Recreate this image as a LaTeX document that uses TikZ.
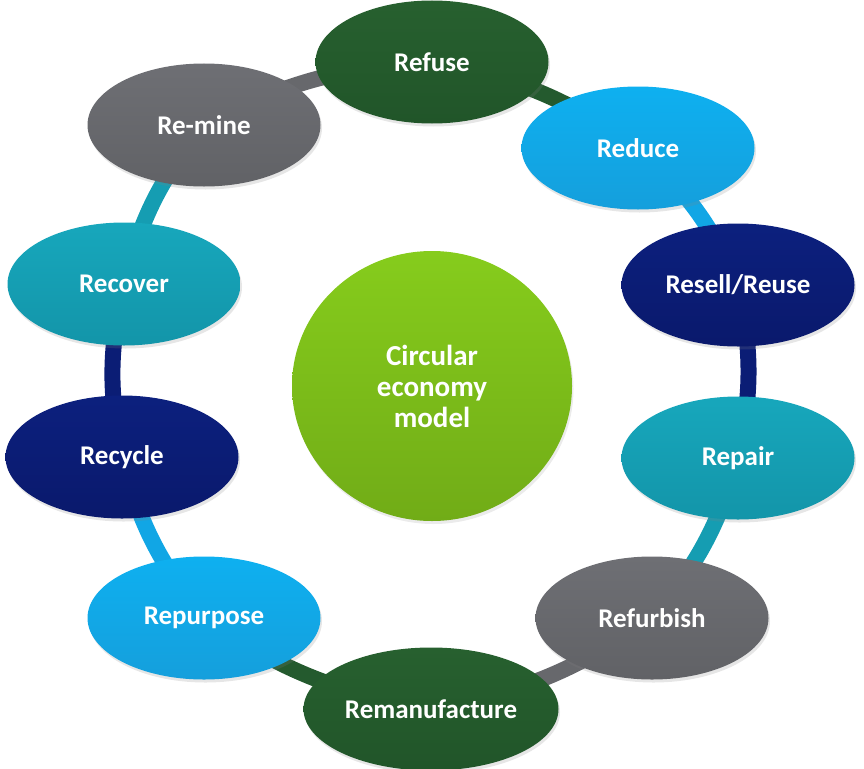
\documentclass[tikz,border=0pt]{standalone}
\usepackage{fontspec}
\setmainfont{Carlito}
\usetikzlibrary{shapes.geometric,shadows,backgrounds}
\definecolor{cgreenT}{HTML}{27602F}
\definecolor{cgreenB}{HTML}{215529}
\definecolor{cgreen}{HTML}{245A2E}
\definecolor{cblueT}{HTML}{0EB0F0}
\definecolor{cblueB}{HTML}{159FDC}
\definecolor{cblue}{HTML}{11A6E5}
\definecolor{cnavyT}{HTML}{0C207E}
\definecolor{cnavyB}{HTML}{0A196C}
\definecolor{cnavy}{HTML}{0B1D75}
\definecolor{ctealT}{HTML}{17A7BC}
\definecolor{ctealB}{HTML}{1395A9}
\definecolor{cteal}{HTML}{159DB2}
\definecolor{cgreyT}{HTML}{6E6F74}
\definecolor{cgreyB}{HTML}{616266}
\definecolor{cgrey}{HTML}{67686C}
\definecolor{ccentT}{HTML}{86CC1C}
\definecolor{ccentB}{HTML}{71AC17}
\begin{document}
\begin{tikzpicture}[x=1pt,y=-1pt,
  stage/.style={ellipse, minimum width=233pt, minimum height=123pt, inner sep=0pt,
    text=white, font=\fontsize{27}{32}\selectfont\bfseries,
    drop shadow={opacity=0.2, shadow xshift=1.5pt, shadow yshift=-3pt}},
  sgreen/.style={stage, top color=cgreenT, bottom color=cgreenB},
  sblue/.style={stage, top color=cblueT, bottom color=cblueB},
  snavy/.style={stage, top color=cnavyT, bottom color=cnavyB},
  steal/.style={stage, top color=ctealT, bottom color=ctealB},
  sgrey/.style={stage, top color=cgreyT, bottom color=cgreyB},
  link/.style={line width=16pt, bend left=12},
]
\useasboundingbox (0,0) rectangle (864,768);

\node[ellipse, minimum width=280pt, minimum height=270pt, inner sep=0pt,
  top color=ccentT, bottom color=ccentB, text=white, align=center,
  font=\fontsize{29}{31}\selectfont\bfseries,
  drop shadow={opacity=0.16, shadow xshift=1.5pt, shadow yshift=-3pt}]
  (center) at (432,386) {Circular\\economy\\model};

\node[sgreen] (refuse) at (432,62) {Refuse};
\node[sblue]  (reduce) at (638,148) {Reduce};
\node[snavy]  (resell) at (738,285) {Resell/Reuse};
\node[steal]  (repair) at (738,458) {Repair};
\node[sgrey]  (refurb) at (652,618) {Refurbish};
\node[sgreen, minimum width=255pt] (reman) at (431,709) {Remanufacture};
\node[sblue]  (repurp) at (204,618) {Repurpose};
\node[snavy]  (recycle) at (122,457) {Recycle};
\node[steal]  (recover) at (124,284) {Recover};
\node[sgrey]  (remine) at (204,125) {Re-mine};

\begin{scope}[on background layer]
\draw[link, cgreen] (refuse.center) to (reduce.center);
\draw[link, cblue]  (reduce.center) to (resell.center);
\draw[link, cnavy]  (resell.center) to (repair.center);
\draw[link, cteal]  (repair.center) to (refurb.center);
\draw[link, cgrey]  (refurb.center) to (reman.center);
\draw[link, cgreen] (reman.center) to (repurp.center);
\draw[link, cblue]  (repurp.center) to (recycle.center);
\draw[link, cnavy]  (recycle.center) to (recover.center);
\draw[link, cteal]  (recover.center) to (remine.center);
\draw[link, cgrey]  (remine.center) to (refuse.center);
\end{scope}
\end{tikzpicture}
\end{document}
